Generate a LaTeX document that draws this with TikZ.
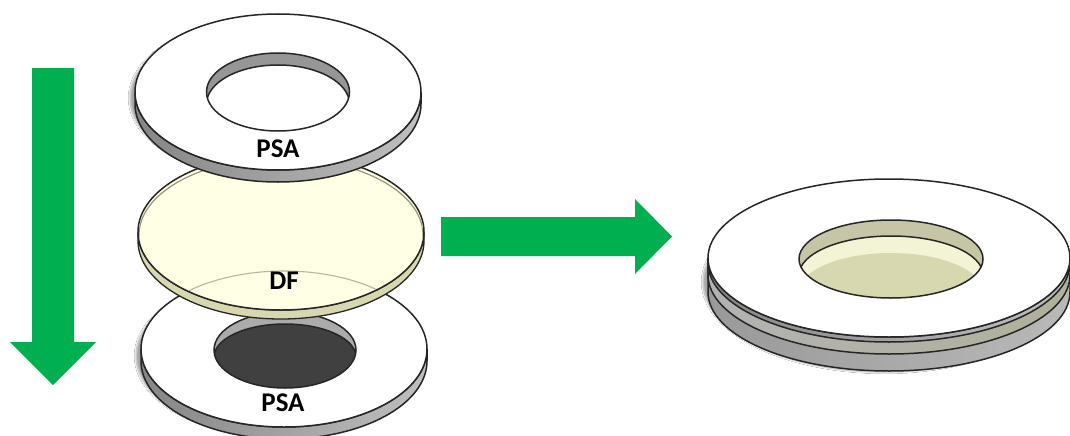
\documentclass[tikz,border=0pt]{standalone}
\usepackage{fontspec}
\setsansfont{Carlito}
\usepackage{tikz}
\usetikzlibrary{shadows.blur}
\definecolor{arrowgreen}{RGB}{0,176,80}
\definecolor{dfyellow}{RGB}{255,255,230}
\definecolor{dfside}{RGB}{216,216,176}
\definecolor{dfrim}{RGB}{150,150,120}
\definecolor{wallgray}{RGB}{150,150,150}
\definecolor{holedark}{RGB}{64,64,64}
\tikzset{
  % flat faces of the discs
  faceln/.style={line width=1.5pt, draw=black!85},
  whiteface/.style={faceln, fill=white},
  softshadow/.style={blur shadow={shadow blur steps=8, shadow opacity=35,
                     shadow xshift=-5pt, shadow yshift=-2pt}},
  % rims, darker towards the left
  grayrim/.style={faceln, left color=gray!95, right color=gray!50},
  stackrim/.style={faceln, left color=gray!80, right color=gray!55},
  olverim/.style={faceln, left color=gray!60, right color=gray!45!dfside},
  yellowrim/.style={line width=1.3pt, draw=black!85, fill=dfside},
  % big block arrows
  blockarrow/.style={fill=arrowgreen, draw=none},
  disclabel/.style={font=\sffamily\bfseries\fontsize{27}{30}\selectfont, text=black, inner sep=0pt},
}
% rim below a face: centre x, centre y, radius x, radius y, height
\newcommand{\rimpath}[5]{(#1-#3,#2) arc (180:0:#3 and #4) -- ++(0,#5) arc (0:180:#3 and #4) -- cycle}
\newcommand{\ovalpath}[4]{(#1,#2) ellipse (#3 and #4)}
\begin{document}
\begin{tikzpicture}[x=1pt, y=-1pt]
  \useasboundingbox (0,0) rectangle (1070,436);
  \fill[white] (0,0) rectangle (1070,436);
  % --- bottom PSA ring ---
  \fill[white, softshadow] \ovalpath{284}{354}{143}{80};
  \draw[grayrim] \rimpath{284}{349}{143}{78}{12};
  \draw[whiteface] \ovalpath{284}{349}{143}{78};
  \begin{scope}
    \clip \ovalpath{285}{350}{71}{38};
    \fill[wallgray!80] \ovalpath{285}{350}{71}{38};
    \draw[faceln, fill=holedark] \ovalpath{285}{357}{71}{33};
  \end{scope}
  \draw[faceln] \ovalpath{285}{350}{71}{38};
  \node[disclabel] (psabottom) at (283,403) {PSA};
  % --- DF film, the ring shows through it ---
  \draw[yellowrim] \rimpath{281}{232}{143}{78}{9};
  \draw[faceln, fill=dfyellow] \ovalpath{281}{232}{143}{78};
  \begin{scope}
    \clip \ovalpath{281}{232}{142}{77};
    \draw[line width=1.1pt, dfrim!70] \ovalpath{284}{349}{143}{78};
    \draw[line width=1.2pt, dfrim] \ovalpath{281}{235}{142}{77};
  \end{scope}
  \node[disclabel] (df) at (284,281) {DF};
  % --- top PSA ring ---
  \fill[white, softshadow] \ovalpath{278}{96}{143}{80};
  \draw[grayrim] \rimpath{278}{92}{143}{78}{12};
  \draw[whiteface] \ovalpath{278}{92}{143}{78};
  \begin{scope}
    \clip \ovalpath{278}{92}{71.5}{39};
    \fill[wallgray] \ovalpath{278}{92}{71.5}{39};
    \draw[faceln, fill=white] \ovalpath{278}{104}{71.5}{39};
  \end{scope}
  \draw[faceln] \ovalpath{278}{92}{71.5}{39};
  \node[disclabel] (psatop) at (278,149) {PSA};
  % --- assembled stack ---
  \fill[white, softshadow] \ovalpath{889}{280}{181}{90};
  \draw[stackrim] \rimpath{889}{258}{181}{79}{34};
  \draw[olverim] \rimpath{889}{258}{181}{79}{17};
  \draw[grayrim] \rimpath{889}{258}{181}{79}{5};
  \draw[whiteface] \ovalpath{889}{258}{181}{79};
  \begin{scope}
    \clip \ovalpath{891}{259}{92}{39};
    \fill[dfside!80!gray] \ovalpath{891}{259}{92}{39};
    \draw[faceln, fill=dfyellow!70!dfside] \ovalpath{891}{275}{92}{39};
    \fill[dfside] \ovalpath{891}{292}{92}{39};
  \end{scope}
  \draw[faceln] \ovalpath{891}{259}{92}{39};
  % --- arrows ---
  \fill[blockarrow] (32,68) -- (74,68) -- (74,342) -- (96,342) -- (53,385)
    -- (10,342) -- (32,342) -- cycle;
  \fill[blockarrow] (441,217) -- (635,217) -- (635,199) -- (672,236.5)
    -- (635,274) -- (635,256) -- (441,256) -- cycle;
\end{tikzpicture}
\end{document}
